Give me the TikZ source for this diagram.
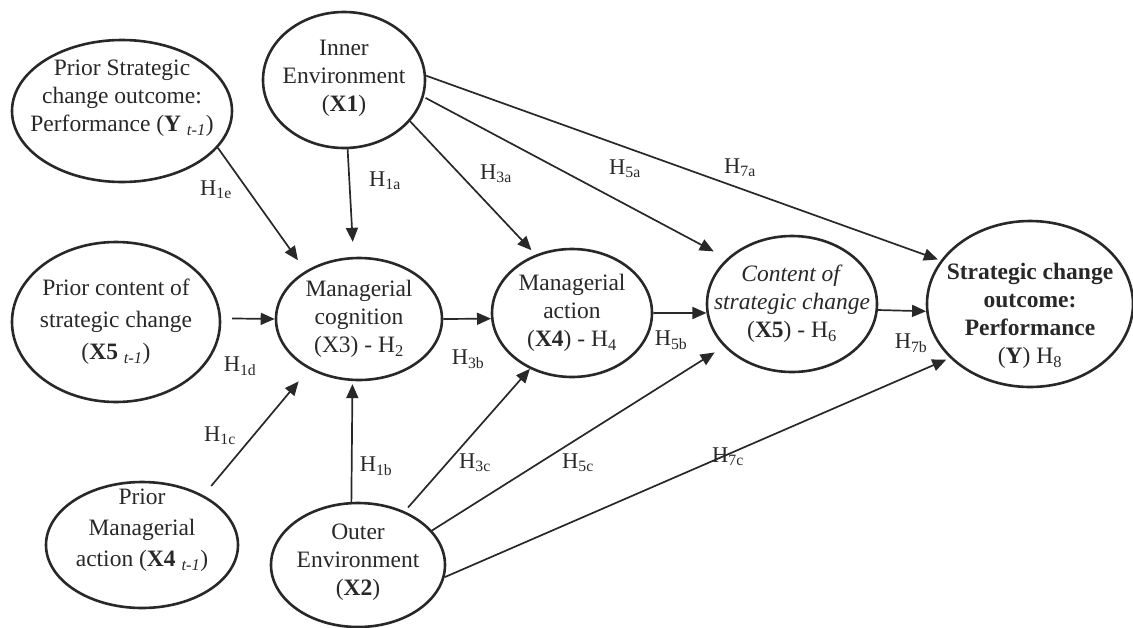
\documentclass[tikz,border=0pt]{standalone}
\usepackage{fontspec}
\setmainfont{Liberation Serif}
\usetikzlibrary{shapes.geometric,arrows.meta}
\definecolor{ink}{RGB}{40,40,40}
\begin{document}
\begin{tikzpicture}[x=1pt,y=-1pt,
  el/.style={ellipse,draw=ink,line width=2.6pt,inner sep=0pt},
  txt/.style={align=center,text=ink,inner sep=0pt,font=\fontsize{23.5}{28}\selectfont},
  hl/.style={text=ink,inner sep=0pt,font=\fontsize{22.5}{26}\selectfont},
  arr/.style={draw=ink,line width=1.7pt,-{Triangle[length=14pt,width=12pt]}}]
\useasboundingbox (0,0) rectangle (1133,627);

% ellipses
\node[el,minimum width=220pt,minimum height=142pt] (ps) at (122,111) {};
\node[el,minimum width=162pt,minimum height=136pt] (ie) at (344,80) {};
\node[el,minimum width=208pt,minimum height=160pt] (pc) at (116,322) {};
\node[el,minimum width=166pt,minimum height=122pt] (mc) at (359,319) {};
\node[el,minimum width=160pt,minimum height=128pt] (ma) at (572,313) {};
\node[el,minimum width=170pt,minimum height=136pt] (cs) at (792,304) {};
\node[el,minimum width=206pt,minimum height=166pt] (so) at (1030,304) {};
\node[el,minimum width=192pt,minimum height=126pt] (pm) at (142,545) {};
\node[el,minimum width=174pt,minimum height=124pt] (oe) at (358,565) {};

% texts
\node[txt] (pst) at ([yshift=13pt]ps.center) {Prior Strategic\\change outcome:\\Performance (\textbf{Y} \textsubscript{\textit{t-1}})};
\node[txt] (iet) at ([yshift=2pt]ie.center) {Inner\\Environment\\(\textbf{X1})};
\node[txt,font=\fontsize{23.5}{32}\selectfont] (pct) at (pc.center) {Prior content of\\strategic change\\(\textbf{X5} \textsubscript{\textit{t-1}})};
\node[txt] (mct) at (mc.center) {Managerial\\cognition\\(X3) - H\textsubscript{2}};
\node[txt] (mat) at (ma.center) {Managerial\\action\\(\textbf{X4}) - H\textsubscript{4}};
\node[txt] (cst) at (cs.center) {\textit{Content of}\\\textit{strategic change}\\(\textbf{X5}) - H\textsubscript{6}};
\node[txt] (sot) at ([yshift=-12pt]so.center) {\textbf{Strategic change}\\\textbf{outcome:}\\\textbf{Performance}\\(\textbf{Y}) H\textsubscript{8}};
\node[txt,font=\fontsize{23.5}{31}\selectfont] (pmt) at ([yshift=15pt]pm.center) {Prior\\Managerial\\action (\textbf{X4} \textsubscript{\textit{t-1}})};
\node[txt] (oet) at ([yshift=3pt]oe.center) {Outer\\Environment\\(\textbf{X2})};

% connectors
\draw[arr,shorten >=13pt] (ps.-21) -- (mc.138);
\draw[arr,shorten >=15pt] (ie.-87) -- (mc.95);
\draw[arr,shorten <=11pt] (pc.2) -- (mc.180);
\draw[arr,shorten <=12pt,shorten >=16pt] (pm.39) -- (mc.-135);
\draw[arr,shorten >=3pt] (oe.96) -- (mc.-96);
\draw[arr] (mc.east) -- (ma.184);
\draw[arr,shorten >=6pt] (ie.-32) -- (ma.122);
\draw[arr,shorten <=5pt] (oe.49) -- (ma.-127);
\draw[arr] (ma.east) -- (cs.186);
\draw[arr,shorten <=2pt,shorten >=15pt] (ie.-12) -- (cs.145);
\draw[arr,shorten >=11pt] (oe.25) -- (cs.-148);
\draw[arr] (cs.-4) -- (so.184);
\draw[arr,shorten >=3pt] (ie.3) -- (so.154);
\draw[arr,shorten >=4pt] (oe.-8) -- (so.-146);

% hypothesis labels
\node[hl] (h1e) at (216,190) {H\textsubscript{1e}};
\node[hl] (h1a) at (385,181) {H\textsubscript{1a}};
\node[hl] (h3a) at (496,174) {H\textsubscript{3a}};
\node[hl] (h5a) at (625,169) {H\textsubscript{5a}};
\node[hl] (h7a) at (740,168) {H\textsubscript{7a}};
\node[hl] (h1d) at (240,366) {H\textsubscript{1d}};
\node[hl] (h3b) at (468,359) {H\textsubscript{3b}};
\node[hl] (h5b) at (671,340) {H\textsubscript{5b}};
\node[hl] (h7b) at (911,343) {H\textsubscript{7b}};
\node[hl] (h1c) at (220,436) {H\textsubscript{1c}};
\node[hl] (h1b) at (376,466) {H\textsubscript{1b}};
\node[hl] (h3c) at (475,463) {H\textsubscript{3c}};
\node[hl] (h5c) at (578,463) {H\textsubscript{5c}};
\node[hl] (h7c) at (728,457) {H\textsubscript{7c}};
\end{tikzpicture}
\end{document}
